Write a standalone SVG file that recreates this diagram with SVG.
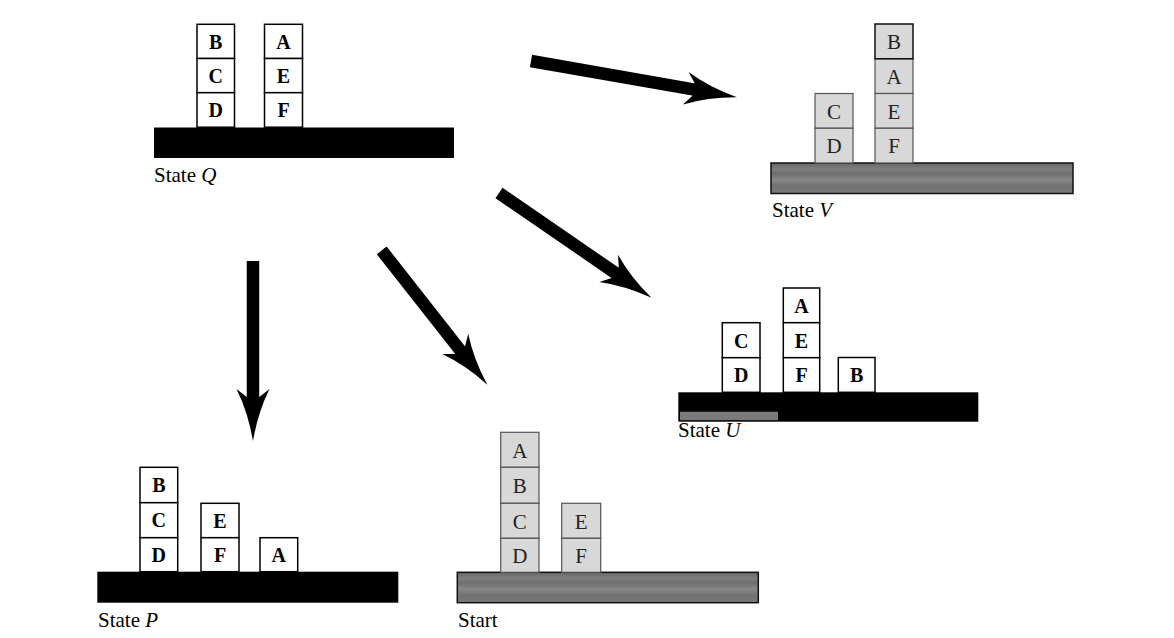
<svg xmlns="http://www.w3.org/2000/svg" width="1174" height="638" viewBox="0 0 1174 638">
<defs>
<style>
.blk{fill:#ffffff;stroke:#000;stroke-width:1.5}
.gblk{fill:#d8d8d8;stroke:#555;stroke-width:1.2}
.bt{font-family:"Liberation Serif","Times New Roman",serif;font-size:20px;font-weight:bold;fill:#000;text-anchor:middle}
.gt{font-family:"Liberation Serif","Times New Roman",serif;font-size:21px;fill:#222;text-anchor:middle}
.lbl{font-family:"Liberation Serif","Times New Roman",serif;font-size:21px;fill:#000}
.it{font-style:italic}
.btab{fill:#000}
.gtab{fill:url(#tex);stroke:#111;stroke-width:1.5}
.shaft{stroke:#000;stroke-width:12.5;fill:none;stroke-linecap:butt}
</style>
<linearGradient id="tex" x1="0" y1="0" x2="0" y2="1">
<stop offset="0" stop-color="#686868"/>
<stop offset="0.2" stop-color="#7e7e7e"/>
<stop offset="0.35" stop-color="#6e6e6e"/>
<stop offset="0.55" stop-color="#878787"/>
<stop offset="0.75" stop-color="#717171"/>
<stop offset="1" stop-color="#7a7a7a"/>
</linearGradient>
<marker id="head" markerUnits="userSpaceOnUse" markerWidth="80" markerHeight="60" viewBox="-20 -30 80 60" refX="0" refY="0" orient="auto" overflow="visible">
<path d="M-9,-16.5 Q14,-5 43,0 Q14,5 -9,16.5 L-1,6.25 L-1,-6.25 Z" fill="#000"/>
</marker>
</defs>
<rect width="1174" height="638" fill="#fff"/>

<g id="connectors">
<line class="shaft" x1="531" y1="61" x2="694.6" y2="89.7" marker-end="url(#head)"/>
<line class="shaft" x1="499" y1="193" x2="616.1" y2="273.5" marker-end="url(#head)"/>
<line class="shaft" x1="381.7" y1="250.3" x2="460.8" y2="351" marker-end="url(#head)"/>
<line class="shaft" x1="253" y1="261" x2="253" y2="398" marker-end="url(#head)"/>
</g>

<g id="state-q">
<rect class="btab" x="154" y="127.5" width="300" height="30.5"/>
<rect class="blk" x="197" y="24.3" width="37.5" height="34.2"/>
<rect class="blk" x="197" y="58.5" width="37.5" height="34.2"/>
<rect class="blk" x="197" y="92.7" width="37.5" height="34.5"/>
<rect class="blk" x="264.5" y="24.3" width="38" height="34.2"/>
<rect class="blk" x="264.5" y="58.5" width="38" height="34.2"/>
<rect class="blk" x="264.5" y="92.7" width="38" height="34.5"/>
<text class="bt" x="215.7" y="48.5">B</text>
<text class="bt" x="215.7" y="82.5">C</text>
<text class="bt" x="215.7" y="117">D</text>
<text class="bt" x="283.5" y="48.5">A</text>
<text class="bt" x="283.5" y="82.5">E</text>
<text class="bt" x="283.5" y="117">F</text>
<text class="lbl" x="154" y="181.5">State <tspan class="it">Q</tspan></text>
</g>

<g id="state-v">
<rect class="gtab" x="771" y="163" width="302" height="30.5"/>
<rect class="gblk" x="815" y="93.5" width="38" height="34.75"/>
<rect class="gblk" x="815" y="128.25" width="38" height="34.75"/>
<rect class="gblk" x="875" y="58.75" width="38" height="34.75"/>
<rect class="gblk" x="875" y="93.5" width="38" height="34.75"/>
<rect class="gblk" x="875" y="128.25" width="38" height="34.75"/>
<rect x="875" y="24" width="38" height="34.75" fill="#d8d8d8" stroke="#111" stroke-width="1.5"/>
<text class="gt" x="834" y="118.5">C</text>
<text class="gt" x="834" y="153.2">D</text>
<text class="gt" x="894" y="49">B</text>
<text class="gt" x="894" y="83.7">A</text>
<text class="gt" x="894" y="118.5">E</text>
<text class="gt" x="894" y="153.2">F</text>
<text class="lbl" x="772" y="217">State <tspan class="it">V</tspan></text>
</g>

<g id="state-u">
<rect class="btab" x="678.3" y="392.3" width="300" height="29.4"/>
<rect x="680" y="411.7" width="98" height="8.5" fill="#7a7a7a"/>
<rect class="blk" x="722.3" y="322.7" width="37.7" height="35"/>
<rect class="blk" x="722.3" y="357.7" width="37.7" height="34.6"/>
<rect class="blk" x="783.3" y="288" width="36.4" height="34.7"/>
<rect class="blk" x="783.3" y="322.7" width="36.4" height="35"/>
<rect class="blk" x="783.3" y="357.7" width="36.4" height="34.6"/>
<rect class="blk" x="838.3" y="357.5" width="36.7" height="34.8"/>
<text class="bt" x="741.2" y="347.5">C</text>
<text class="bt" x="741.2" y="382.2">D</text>
<text class="bt" x="801.5" y="312.5">A</text>
<text class="bt" x="801.5" y="347.5">E</text>
<text class="bt" x="801.5" y="382.2">F</text>
<text class="bt" x="856.7" y="382.2">B</text>
<text class="lbl" x="678" y="437" fill="#222">State <tspan class="it">U</tspan></text>
</g>

<g id="state-p">
<rect class="btab" x="97.3" y="571.7" width="301" height="31"/>
<rect class="blk" x="140" y="467.3" width="37.7" height="35.4"/>
<rect class="blk" x="140" y="502.7" width="37.7" height="35"/>
<rect class="blk" x="140" y="537.7" width="37.7" height="34"/>
<rect class="blk" x="201" y="503.3" width="38" height="34.4"/>
<rect class="blk" x="201" y="537.7" width="38" height="34"/>
<rect class="blk" x="260" y="537.7" width="37.7" height="34"/>
<text class="bt" x="158.8" y="492">B</text>
<text class="bt" x="158.8" y="527.2">C</text>
<text class="bt" x="158.8" y="561.7">D</text>
<text class="bt" x="220" y="527.5">E</text>
<text class="bt" x="220" y="561.7">F</text>
<text class="bt" x="278.8" y="561.7">A</text>
<text class="lbl" x="98" y="626.5">State <tspan class="it">P</tspan></text>
</g>

<g id="start">
<rect class="gtab" x="457.3" y="572.3" width="301" height="30.4"/>
<rect class="gblk" x="500.7" y="432.3" width="38.3" height="35"/>
<rect class="gblk" x="500.7" y="467.3" width="38.3" height="36"/>
<rect class="gblk" x="500.7" y="503.3" width="38.3" height="35"/>
<rect class="gblk" x="500.7" y="538.3" width="38.3" height="34"/>
<rect class="gblk" x="561.7" y="503.3" width="39" height="35"/>
<rect class="gblk" x="561.7" y="538.3" width="39" height="34"/>
<text class="gt" x="519.8" y="457.5">A</text>
<text class="gt" x="519.8" y="493">B</text>
<text class="gt" x="519.8" y="528.5">C</text>
<text class="gt" x="519.8" y="563">D</text>
<text class="gt" x="581.2" y="528.5">E</text>
<text class="gt" x="581.2" y="563">F</text>
<text class="lbl" x="458" y="626.5">Start</text>
</g>
</svg>
